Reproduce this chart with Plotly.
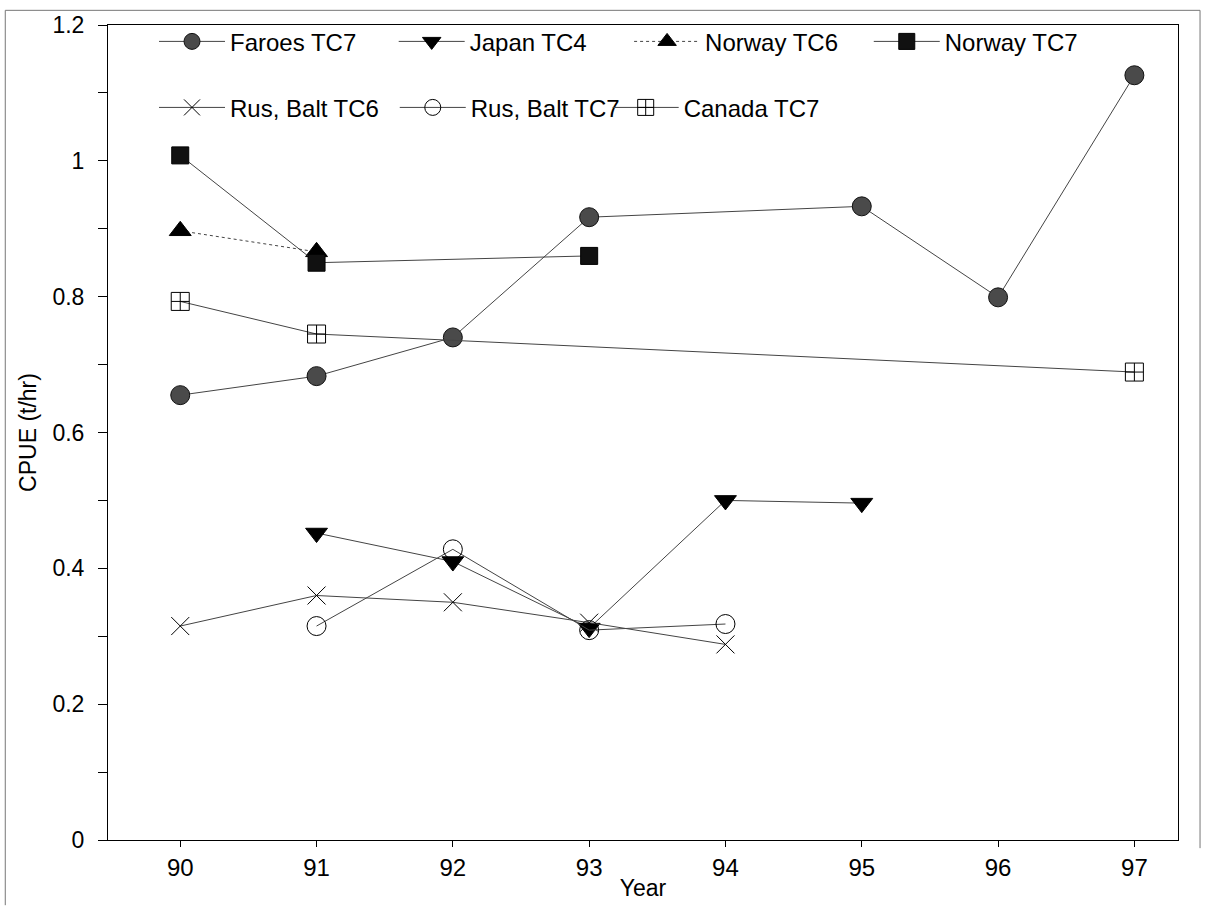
import plotly.graph_objects as go

# ---- data ----
faroes_x = [90, 91, 92, 93, 95, 96, 97]
faroes_y = [0.655, 0.683, 0.740, 0.917, 0.933, 0.799, 1.126]

japan_x = [91, 92, 93, 94, 95]
japan_y = [0.452, 0.410, 0.312, 0.500, 0.496]

norway6_x = [90, 91]
norway6_y = [0.897, 0.866]

norway7_x = [90, 91, 93]
norway7_y = [1.008, 0.850, 0.860]

rus6_x = [90, 91, 92, 93, 94]
rus6_y = [0.315, 0.360, 0.350, 0.320, 0.288]

rus7_x = [91, 92, 93, 94]
rus7_y = [0.315, 0.428, 0.309, 0.318]

canada_x = [90, 91, 97]
canada_y = [0.793, 0.745, 0.689]

year_ticks = [90, 91, 92, 93, 94, 95, 96, 97]
cpue_ticks = [0, 0.2, 0.4, 0.6, 0.8, 1.0, 1.2]
cpue_labels = ["0", "0.2", "0.4", "0.6", "0.8", "1", "1.2"]

FONT = "Liberation Sans, Arial, sans-serif"
LINE = "#444444"
FS = 23
LFS = 24

series = [
    ("Faroes TC7", faroes_x, faroes_y, "circle", "#4a4a4a", "#111111", 19, "solid"),
    ("Japan TC4", japan_x, japan_y, "triangle-down", "#000000", "#000000", 19, "solid"),
    ("Norway TC6", norway6_x, norway6_y, "triangle-up", "#000000", "#000000", 19, "dot"),
    ("Norway TC7", norway7_x, norway7_y, "square", "#111111", "#000000", 17, "solid"),
    ("Rus, Balt TC6", rus6_x, rus6_y, "x-thin-open", "#000000", "#000000", 18, "solid"),
    ("Rus, Balt TC7", rus7_x, rus7_y, "circle-open", "#000000", "#000000", 19, "solid"),
    ("Canada TC7", canada_x, canada_y, "square-cross-open", "#000000", "#000000", 18, "solid"),
]

# legend entry placement (paper x of each entry box, paper y of its row)
legend_x = [0.043, 0.267, 0.487, 0.711, 0.043, 0.268, 0.467]
legend_y = [1.007, 1.007, 1.007, 1.007, 0.926, 0.926, 0.926]

fig = go.Figure()
legend_layout = {}
for i, (name, xs, ys, sym, fill, edge, size, dash) in enumerate(series):
    key = "legend" if i == 0 else f"legend{i + 1}"
    fig.add_trace(go.Scatter(
        x=xs, y=ys, name=name, mode="lines+markers", legend=key,
        line=dict(color=LINE, width=1, dash=dash),
        marker=dict(symbol=sym, size=size, color=fill,
                    line=dict(color=edge, width=1)),
    ))
    legend_layout[key] = dict(
        x=legend_x[i], y=legend_y[i], xanchor="left", yanchor="top",
        orientation="h", itemwidth=66, bgcolor="rgba(0,0,0,0)",
        font=dict(family=FONT, size=LFS, color="#000000"),
    )

axis_common = dict(
    showline=True, linecolor="#000000", linewidth=1, mirror=True,
    showgrid=False, zeroline=False, ticks="outside",
    tickcolor="#000000",
)

fig.update_layout(
    width=1208, height=909,
    margin=dict(l=108, r=30, t=20, b=69),
    paper_bgcolor="white", plot_bgcolor="white",
    font=dict(family=FONT, color="#000000"),
    xaxis=dict(range=[89.47, 97.32], tickvals=year_ticks,
               ticktext=[str(v) for v in year_ticks], ticklen=6,
               tickfont=dict(family=FONT, size=24, color="#000000"),
               title=dict(text="Year", font=dict(family=FONT, size=FS), standoff=0),
               **axis_common),
    yaxis=dict(range=[0, 1.2], tickvals=cpue_ticks, ticktext=cpue_labels,
               ticklen=9, ticklabelstandoff=9,
               tickfont=dict(family=FONT, size=FS, color="#000000"),
               minor=dict(dtick=0.1, ticks="outside", ticklen=9, tickcolor="#000000"),
               title=dict(text="CPUE (t/hr)", font=dict(family=FONT, size=FS), standoff=9),
               **axis_common),
    showlegend=True,
    **legend_layout,
)

# scan frame around the page
for x0, y0, x1, y1 in [(-0.096, -0.08, -0.096, 1.018), (-0.096, 1.018, 1.0206, 1.018),
                       (1.0206, 1.018, 1.0206, -0.01)]:
    fig.add_shape(type="line", xref="paper", yref="paper", x0=x0, y0=y0, x1=x1, y1=y1,
                  line=dict(color="#777777", width=1))

fig.write_html("out.html", config={"displayModeBar": False},
               post_script="document.body.style.margin='0';")
